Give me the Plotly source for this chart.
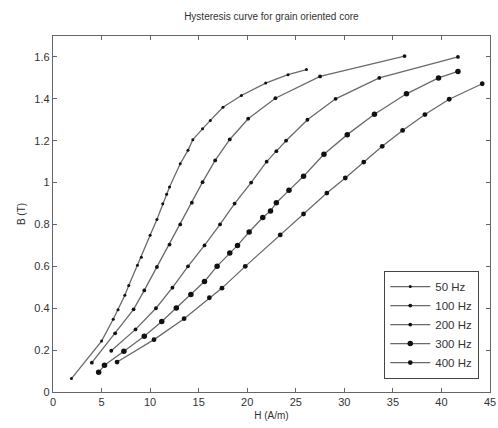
import plotly.graph_objects as go

labels = ["50 Hz", "100 Hz", "200 Hz", "300 Hz", "400 Hz"]

h50 = [1.9, 5.0, 6.2, 6.7, 7.4, 7.8, 8.7, 9.1, 10.0, 10.7, 11.3, 11.7, 12.0, 13.1, 13.9, 14.4, 15.4, 16.2, 17.5, 19.4, 21.9, 24.2, 26.1]
b50 = [0.064, 0.243, 0.347, 0.393, 0.462, 0.509, 0.605, 0.644, 0.748, 0.824, 0.899, 0.944, 0.979, 1.09, 1.154, 1.205, 1.257, 1.297, 1.36, 1.416, 1.475, 1.515, 1.54]

h100 = [4.0, 6.4, 8.3, 9.4, 10.7, 12.0, 13.1, 14.3, 15.4, 16.7, 18.2, 20.1, 22.9, 27.5, 36.2]
b100 = [0.14, 0.28, 0.395, 0.485, 0.597, 0.704, 0.80, 0.904, 1.002, 1.106, 1.206, 1.305, 1.403, 1.507, 1.604]

h200 = [6.0, 8.5, 10.6, 12.3, 13.9, 15.6, 17.2, 18.7, 20.4, 22.0, 23.0, 24.0, 26.2, 29.1, 33.6, 41.7]
b200 = [0.197, 0.299, 0.40, 0.498, 0.60, 0.70, 0.80, 0.90, 1.0, 1.10, 1.15, 1.20, 1.30, 1.40, 1.50, 1.60]

h300 = [4.7, 5.3, 7.3, 9.4, 11.2, 12.7, 14.2, 15.6, 16.9, 18.2, 19.0, 20.2, 21.6, 22.4, 23.0, 24.3, 25.8, 27.9, 30.3, 33.1, 36.4, 39.7, 41.7]
b300 = [0.094, 0.128, 0.195, 0.266, 0.337, 0.401, 0.466, 0.528, 0.601, 0.664, 0.70, 0.764, 0.833, 0.864, 0.904, 0.963, 1.03, 1.135, 1.229, 1.326, 1.424, 1.50, 1.531]

h400 = [6.6, 10.4, 13.5, 16.1, 17.4, 19.8, 23.4, 25.8, 28.2, 30.1, 32.0, 33.9, 36.0, 38.3, 40.8, 44.2]
b400 = [0.143, 0.25, 0.35, 0.45, 0.496, 0.60, 0.75, 0.85, 0.95, 1.022, 1.098, 1.173, 1.249, 1.325, 1.398, 1.472]

x_ticks = [0, 5, 10, 15, 20, 25, 30, 35, 40, 45]
y_ticks = [0, 0.2, 0.4, 0.6, 0.8, 1.0, 1.2, 1.4, 1.6]
y_tick_text = ["0", "0.2", "0.4", "0.6", "0.8", "1", "1.2", "1.4", "1.6"]

series = [(h50, b50), (h100, b100), (h200, b200), (h300, b300), (h400, b400)]
msizes = [3, 3.8, 3.8, 5.5, 4.8]

fig = go.Figure()
for (h, b), name, ms in zip(series, labels, msizes):
    fig.add_trace(go.Scatter(
        x=h, y=b, name=name, mode="lines+markers",
        line=dict(color="#6a6a6a", width=1.3),
        marker=dict(color="#111111", size=ms, symbol="circle"),
    ))

font = "Liberation Sans, Arial, sans-serif"
fig.update_layout(
    width=498, height=428,
    margin=dict(l=53, r=8, t=36, b=36, autoexpand=False),
    paper_bgcolor="white", plot_bgcolor="white",
    font=dict(family=font, size=11, color="#333333"),
    title=dict(text="Hysteresis curve for grain oriented core",
               x=0.545, xanchor="center", y=0.962, yanchor="middle",
               font=dict(size=10, color="#333333")),
    showlegend=True,
    legend=dict(x=0.975, y=0.037, xanchor="right", yanchor="bottom",
                bgcolor="white", bordercolor="#444444", borderwidth=1.2,
                font=dict(size=11.5, color="#333333"), tracegroupgap=0,
                itemwidth=40),
)
axis_common = dict(showline=True, linecolor="#666666", linewidth=1.3, mirror="ticks",
                   ticks="inside", ticklen=4, tickcolor="#666666", showgrid=False,
                   zeroline=False, automargin=False, tickfont=dict(size=11, color="#333333"))
fig.update_xaxes(range=[0, 45], tickvals=x_ticks, title=dict(text="H (A/m)", standoff=4, font=dict(size=10)), **axis_common)
fig.update_yaxes(range=[0, 1.7], tickvals=y_ticks, ticktext=y_tick_text, title=dict(text="B (T)", standoff=6, font=dict(size=10)), **axis_common)

fig.write_html("out.html", config={"displayModeBar": False},
               post_script="document.body.style.margin='0px';document.body.style.overflow='hidden';")
